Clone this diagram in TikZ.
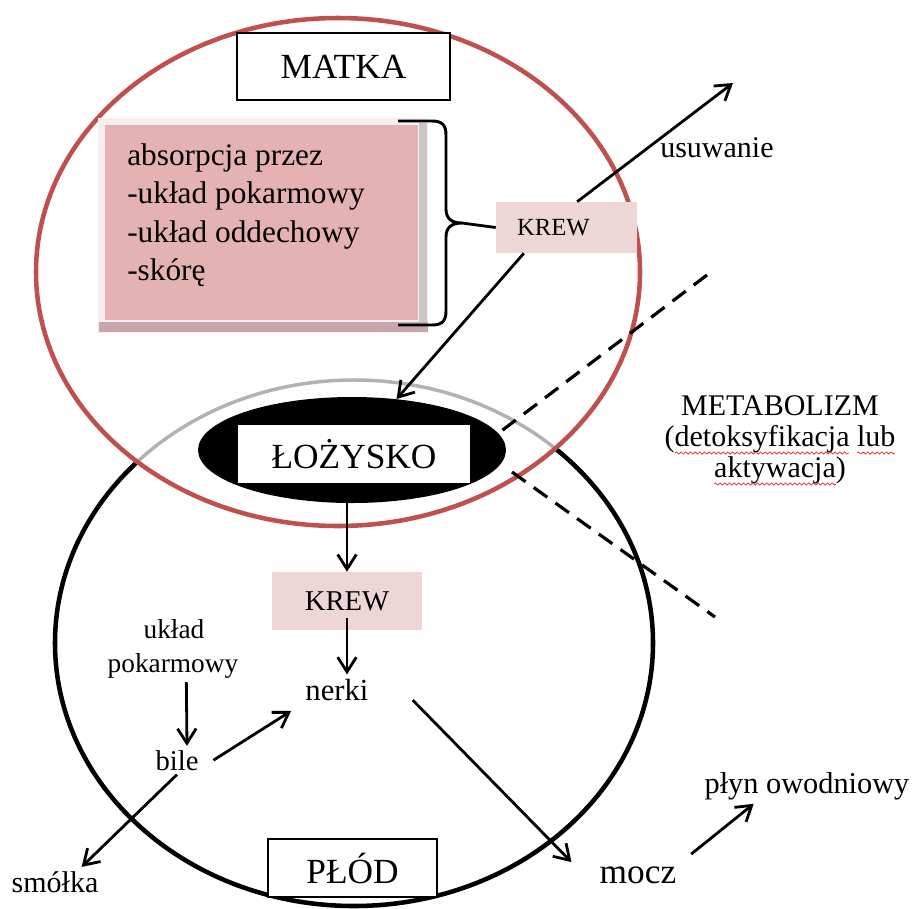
\documentclass[tikz,border=0pt]{standalone}
\usepackage{fontspec}
\setmainfont{Liberation Serif}
\usetikzlibrary{arrows.meta,shapes.geometric,decorations.pathmorphing}

\definecolor{matkared}{RGB}{192,80,77}
\definecolor{rimgrey}{RGB}{178,178,178}
\definecolor{panelpink}{RGB}{228,178,178}
\definecolor{panelrim}{RGB}{245,239,239}
\definecolor{panelshade}{RGB}{201,166,169}
\definecolor{panelside}{RGB}{200,200,200}
\definecolor{bloodpink}{RGB}{239,214,214}
\definecolor{spellred}{RGB}{225,60,60}

\tikzset{
  lbl/.style={inner sep=3pt, text=black},
  arr/.style={line width=2.1pt, -{Straight Barb[length=11pt,width=14pt]}},
  link/.style={line width=2.1pt},
  cutline/.style={line width=2.4pt, dash pattern=on 12.5pt off 7.5pt},
  framebox/.style={draw=black, line width=1.5pt, fill=white, inner sep=0pt},
  bloodbox/.style={fill=bloodpink, inner sep=0pt},
  wavy/.style={draw=spellred, line width=0.6pt, decorate,
    decoration={snake, amplitude=0.8pt, segment length=3.5pt}},
  big/.style={font=\fontsize{26.5}{30}\selectfont},
  mid/.style={font=\fontsize{22.5}{27}\selectfont},
}

\begin{document}
\begin{tikzpicture}[x=0.75pt,y=-0.75pt]
\useasboundingbox (0,0) rectangle (921,908);

% fetus outline
\draw[line width=3.4pt] (354,643) ellipse [x radius=224.25pt, y radius=197.25pt];
% the part of the fetus outline lying inside the mother is grey
\begin{scope}
  \clip (338,272) ellipse [x radius=226.5pt, y radius=190.5pt];
  \draw[white, line width=4.6pt] (354,643) ellipse [x radius=224.25pt, y radius=197.25pt];
  \draw[rimgrey, line width=2.6pt] (354,643) ellipse [x radius=224.25pt, y radius=197.25pt];
\end{scope}
% mother outline
\draw[matkared, line width=3.4pt] (338,272) ellipse [x radius=226.5pt, y radius=190.5pt];

% mother label
\node[framebox, big, minimum width=159.75pt, minimum height=50.25pt] (matka) at (343.5,66.5) {MATKA};

% absorption panel with its shadow
\fill[panelrim] (98,118) rectangle (428,333);
\fill[panelside] (419,123) rectangle (427,331);
\fill[panelshade] (99,322) rectangle (428,332);
\node[fill=panelpink, inner sep=0pt, minimum width=234.75pt, minimum height=146.25pt] (panel) at (261.5,222.5) {};
\node[inner sep=0pt, anchor=base west, font=\fontsize{23.5}{28}\selectfont] (abs1) at (127,165) {absorpcja przez};
\node[inner sep=0pt, anchor=base west, font=\fontsize{23.5}{28}\selectfont] (abs2) at (127,203) {-układ pokarmowy};
\node[inner sep=0pt, anchor=base west, font=\fontsize{23.5}{28}\selectfont] (abs3) at (127,242) {-układ oddechowy};
\node[inner sep=0pt, anchor=base west, font=\fontsize{23.5}{28}\selectfont] (abs4) at (127,280) {-skórę};

% brace gathering the routes of absorption
\coordinate (braceTip) at (462,223);
\draw[line width=2.2pt] (398,121) -- (432,121)
  .. controls (442,121) and (446,125) .. (446,135) -- (446,209)
  .. controls (446,219) and (452,223) .. (braceTip)
  .. controls (452,223) and (446,227) .. (446,237) -- (446,311)
  .. controls (446,321) and (442,325) .. (432,325) -- (398,325);

% maternal blood
\node[bloodbox, minimum width=105.75pt, minimum height=38.25pt, text width=74.25pt,
      inner xsep=15.75pt, align=left, font=\fontsize{18.5}{22}\selectfont] (krewA) at (566.5,227.5) {KREW};
\draw[link] (braceTip) -- (krewA.west);

% elimination
\coordinate (usuTip) at (733,83);
\draw[arr] ([xshift=8pt]krewA.north) -- (usuTip);
\node[inner sep=0pt, anchor=base west, mid] (usu) at (660,157) {usuwanie};

% placenta
\node[ellipse, fill=black, inner sep=0pt, minimum width=231pt, minimum height=79.5pt] (plac) at (352,450) {};
\node[fill=white, inner sep=0pt, big, minimum width=174pt, minimum height=43.5pt] (plactxt) at (354,454) {ŁOŻYSKO};
\draw[arr] ([xshift=-32pt]krewA.south) -- (plac);

% metabolism boundaries
\coordinate (cutA1) at (707,275);
\coordinate (cutA2) at (500,432);
\coordinate (cutB1) at (512,472);
\coordinate (cutB2) at (715,617);
\draw[cutline] (cutA1) -- (cutA2);
\draw[cutline] (cutB1) -- (cutB2);

% metabolism note
\node[inner sep=0pt, anchor=base, mid] (meta1) at (780,415) {METABOLIZM};
\node[inner sep=0pt, anchor=base, mid] (meta2) at (780,446) {(detoksyfikacja lub};
\node[inner sep=0pt, anchor=base, mid] (meta3) at (780,477) {aktywacja)};
\draw[wavy] (675,453) -- (849,453);
\draw[wavy] (857,453) -- (895,453);
\draw[wavy] (714,484) -- (836,484);

% fetal blood
\node[bloodbox, minimum width=112.5pt, minimum height=43.5pt, font=\fontsize{21.5}{26}\selectfont] (krewB) at (347,601) {KREW};
\draw[arr] (krewB.north |- plac.south) -- (krewB.north);

% fetal organs
\node[lbl, anchor=base, font=\fontsize{23}{27}\selectfont] (nerki) at (337,700) {nerki};
\draw[arr] ([yshift=9pt]krewB.south) -- (krewB.south |- nerki.north);

\node[lbl, anchor=base, font=\fontsize{20.5}{25}\selectfont] (uklad) at (174,638) {układ};
\node[lbl, anchor=base, font=\fontsize{20.5}{25}\selectfont] (pok) at (173,672) {pokarmowy};
\node[lbl, anchor=base, font=\fontsize{21.5}{26}\selectfont] (bile) at (177,770) {bile};
\draw[arr] ([xshift=10pt]pok.south) -- ([xshift=7.5pt]bile.north);
\draw[arr, shorten >=9pt] ([xshift=8pt]bile.east) -- (nerki.south west);

\node[lbl, anchor=base, mid] (smolka) at (55,892) {smółka};
\draw[arr] (bile.south) -- ([xshift=20pt]smolka.north);

% fetus label
\node[framebox, big, minimum width=126.75pt, minimum height=43.5pt] (plod) at (352.5,868) {PŁÓD};

% urine and amniotic fluid
\node[lbl, anchor=base, big] (mocz) at (638,883) {mocz};
\draw[arr] ([xshift=30pt,yshift=-8pt]nerki.east) -- ([xshift=-18pt]mocz.north west);
\node[lbl, anchor=base, font=\fontsize{22.75}{27}\selectfont] (plyn) at (807,793) {płyn owodniowy};
\draw[arr] ([xshift=8pt,yshift=6pt]mocz.north east) -- ([xshift=40pt]plyn.south west);

\end{tikzpicture}
\end{document}
